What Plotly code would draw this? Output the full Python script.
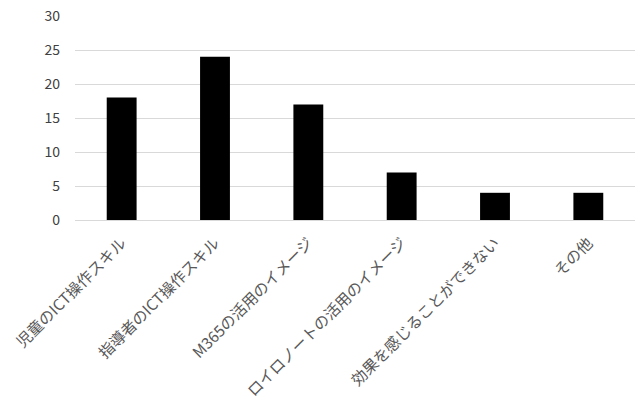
import plotly.graph_objects as go

categories = ["児童のICT操作スキル", "指導者のICT操作スキル", "M365の活用のイメージ",
              "ロイロノートの活用のイメージ", "効果を感じることができない", "その他"]
values = [18, 24, 17, 7, 4, 4]
y_ticks = [0, 5, 10, 15, 20, 25, 30]

fig = go.Figure(go.Bar(x=categories, y=values, marker=dict(color="#000000", line=dict(width=0)),
                       width=0.32))
fig.update_layout(
    width=635, height=403,
    margin=dict(l=75, r=0, t=16, b=183),
    plot_bgcolor="white", paper_bgcolor="white",
    font=dict(family="Noto Sans CJK JP, sans-serif", color="#595959"),
    showlegend=False,
)
fig.update_xaxes(tickangle=-45, tickfont=dict(size=15.5, color="#595959"), showline=True,
                 linecolor="#d9d9d9", linewidth=1, ticks="", ticklabelstandoff=7)
fig.update_yaxes(range=[0, 30], tickvals=y_ticks, showgrid=True, gridcolor="#d9d9d9",
                 tickfont=dict(size=14, color="#404040"), zeroline=False, ticklen=0,
                 ticklabelstandoff=14)
fig.write_html("out.html")
